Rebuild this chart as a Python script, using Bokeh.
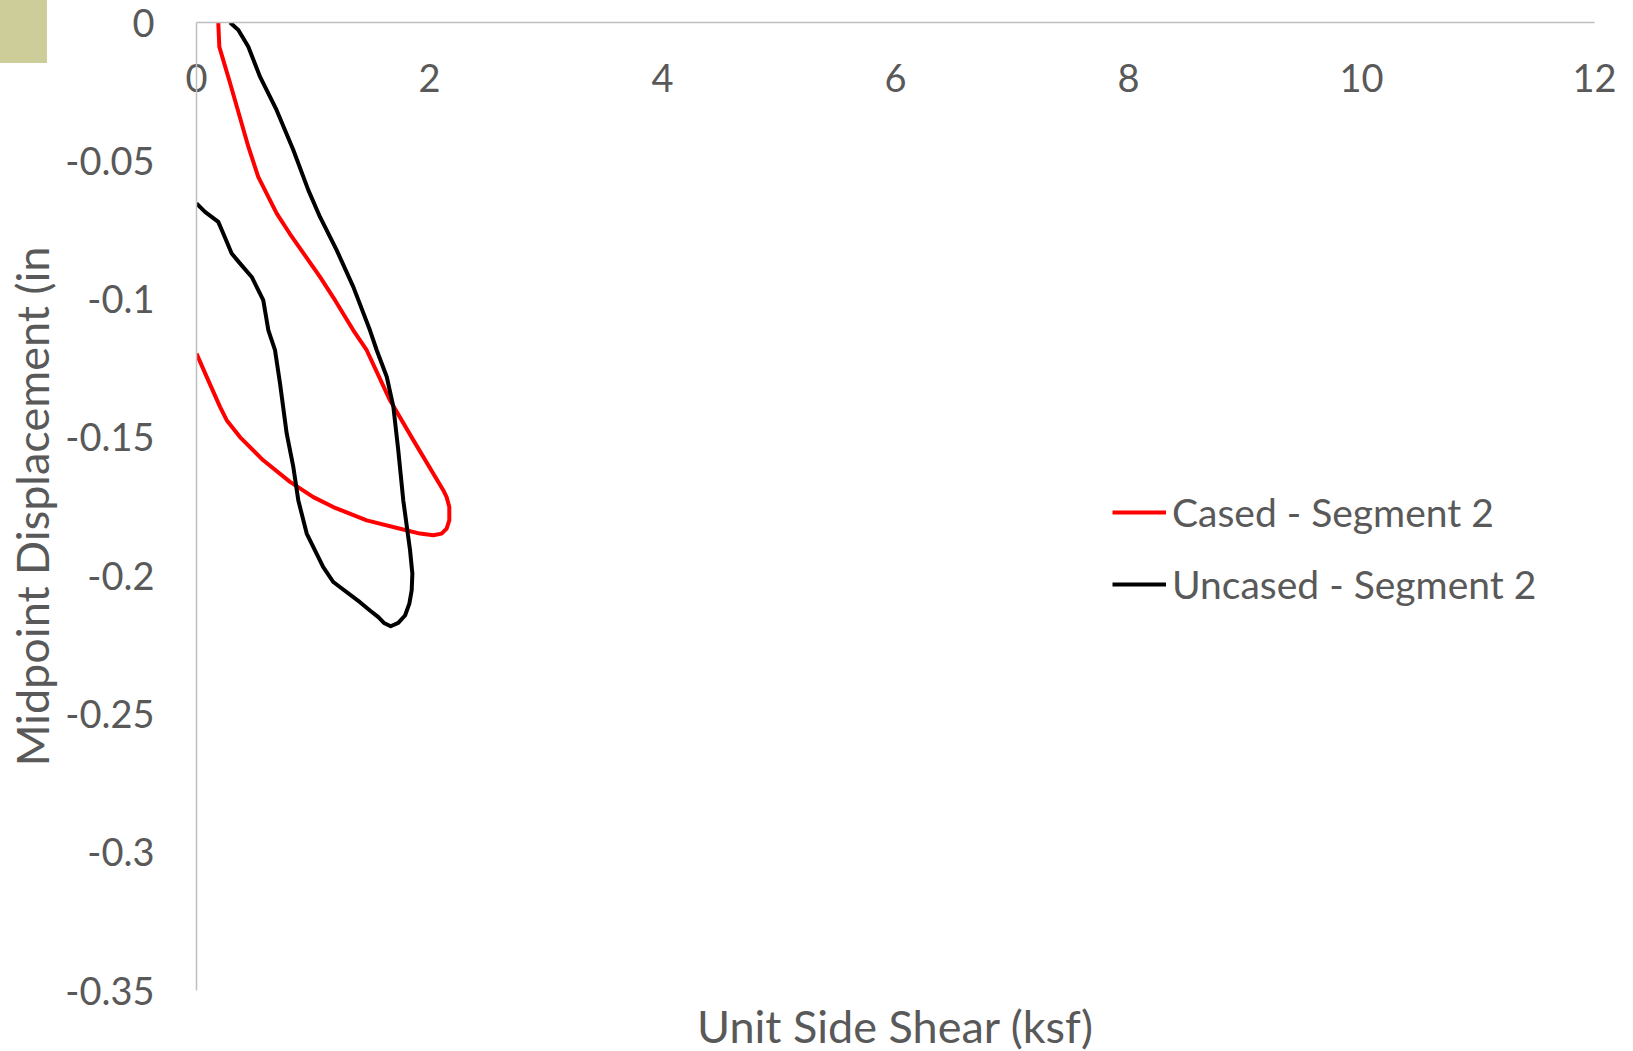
from bokeh.plotting import figure
from bokeh.models import (FixedTicker, Range1d, Legend, Div)
from bokeh.layouts import column
from bokeh.embed import file_html
from bokeh.resources import INLINE

# ---- data ----
x_ticks = [0, 2, 4, 6, 8, 10, 12]
y_ticks = [0, -0.05, -0.1, -0.15, -0.2, -0.25, -0.3, -0.35]
y_tick_labels = ["0", "-0.05", "-0.1", "-0.15", "-0.2", "-0.25", "-0.3", "-0.35"]

cased_x = [0.0, 0.10, 0.202, 0.259, 0.373, 0.573, 0.80, 1.003, 1.174, 1.461, 1.80, 1.918,
           2.033, 2.104, 2.147, 2.170, 2.170, 2.147, 2.118, 1.861, 1.661, 1.461, 1.346,
           1.189, 1.06, 0.80, 0.688, 0.53, 0.445, 0.288, 0.196, 0.187]
cased_y = [-0.1197, -0.1293, -0.139, -0.1438, -0.1499, -0.1583, -0.166, -0.1716, -0.1752,
           -0.180, -0.1836, -0.1848, -0.1854, -0.1848, -0.183, -0.180, -0.1752, -0.1716,
           -0.1691, -0.151, -0.1366, -0.1185, -0.1113, -0.1004, -0.092, -0.0763, -0.069,
           -0.0558, -0.0449, -0.0219, -0.0088, 0.0]

uncased_x = [0.0, 0.073, 0.13, 0.187, 0.23, 0.302, 0.373, 0.474, 0.573, 0.617, 0.674, 0.717,
             0.774, 0.831, 0.874, 0.946, 1.088, 1.174, 1.403, 1.489, 1.561, 1.609, 1.667,
             1.732, 1.790, 1.827, 1.847, 1.853, 1.833, 1.775, 1.732, 1.69, 1.633, 1.547,
             1.489, 1.346, 1.203, 1.06, 0.96, 0.831, 0.688, 0.545, 0.445, 0.359, 0.288]
uncased_y = [-0.0654, -0.0685, -0.0703, -0.0721, -0.0763, -0.0835, -0.0871, -0.092, -0.1004,
             -0.1113, -0.1185, -0.1305, -0.1486, -0.1607, -0.1728, -0.1848, -0.1969, -0.2023,
             -0.2096, -0.2126, -0.215, -0.2171, -0.2183, -0.2171, -0.2144, -0.2101, -0.2053,
             -0.1993, -0.1908, -0.1728, -0.1547, -0.139, -0.1281, -0.1185, -0.1113, -0.0956,
             -0.0823, -0.0703, -0.0606, -0.0461, -0.0317, -0.0196, -0.0088, -0.0027, 0.0]

x_title = "Unit Side Shear (ksf)"
y_title = "Midpoint Displacement (in"
series_names = ["Cased - Segment 2", "Uncased - Segment 2"]

FONT = "Lato"
TXT = "#595959"
AX = "#BFBFBF"
TICK_FS = "38px"
TITLE_FS = "45px"
LEG_FS = "39px"

p = figure(width=1633, height=1051, output_backend="svg", toolbar_location=None,
           x_range=Range1d(0, 12), y_range=Range1d(-0.35, 0),
           min_border_left=196, min_border_right=39, min_border_top=22, min_border_bottom=61,
           x_axis_location="above", y_axis_location="left")
p.outline_line_color = None
p.xgrid.visible = False
p.ygrid.visible = False
p.background_fill_color = "white"
p.border_fill_color = "white"

# x axis along y = 0 (top edge); tick labels hang below the line and the
# axis title is pushed down under the plot area
xa = p.xaxis[0]
xa.ticker = FixedTicker(ticks=x_ticks)
xa.axis_line_color = AX
xa.axis_line_width = 1.5
xa.major_tick_line_color = None
xa.minor_tick_line_color = None
xa.major_tick_out = 0
xa.major_tick_in = 0
xa.major_label_standoff = -69
xa.major_label_text_font = FONT
xa.major_label_text_font_size = TICK_FS
xa.major_label_text_color = TXT
xa.axis_label = x_title
xa.axis_label_standoff = -992
xa.axis_label_text_font = FONT
xa.axis_label_text_font_size = TITLE_FS
xa.axis_label_text_font_style = "normal"
xa.axis_label_text_color = TXT

ya = p.yaxis[0]
ya.ticker = FixedTicker(ticks=y_ticks)
ya.major_label_overrides = {t: l for t, l in zip(y_ticks, y_tick_labels)}
ya.axis_line_color = AX
ya.axis_line_width = 1.5
ya.major_tick_line_color = None
ya.minor_tick_line_color = None
ya.major_tick_out = 0
ya.major_tick_in = 0
ya.major_label_standoff = 42
ya.major_label_text_font = FONT
ya.major_label_text_font_size = TICK_FS
ya.major_label_text_color = TXT
ya.axis_label = y_title
ya.axis_label_standoff = 3
ya.axis_label_text_font = FONT
ya.axis_label_text_font_size = TITLE_FS
ya.axis_label_text_font_style = "normal"
ya.axis_label_text_color = TXT

r1 = p.line(cased_x, cased_y, line_color="#FF0000", line_width=4, line_join="round")
r2 = p.line(uncased_x, uncased_y, line_color="#000000", line_width=4, line_join="round")

legend = Legend(items=[(series_names[0], [r1]), (series_names[1], [r2])],
                location=(916, 370))
legend.border_line_color = None
legend.background_fill_color = None
legend.padding = 0
legend.margin = 0
legend.spacing = 0
legend.glyph_width = 54
legend.glyph_height = 72
legend.label_height = 72
legend.label_standoff = 6
legend.label_text_font = FONT
legend.label_text_font_size = LEG_FS
legend.label_text_color = TXT
p.add_layout(legend, "center")

# decorative olive block at the top-left corner of the page
blk = Div(text="", width=47, height=63, margin=0,
          styles={"position": "absolute", "left": "0px", "top": "0px",
                  "width": "47px", "height": "63px",
                  "background-color": "#CDCD9A", "z-index": "10"})

page = column(blk, p)
open("out.html", "w").write(file_html(page, INLINE))
